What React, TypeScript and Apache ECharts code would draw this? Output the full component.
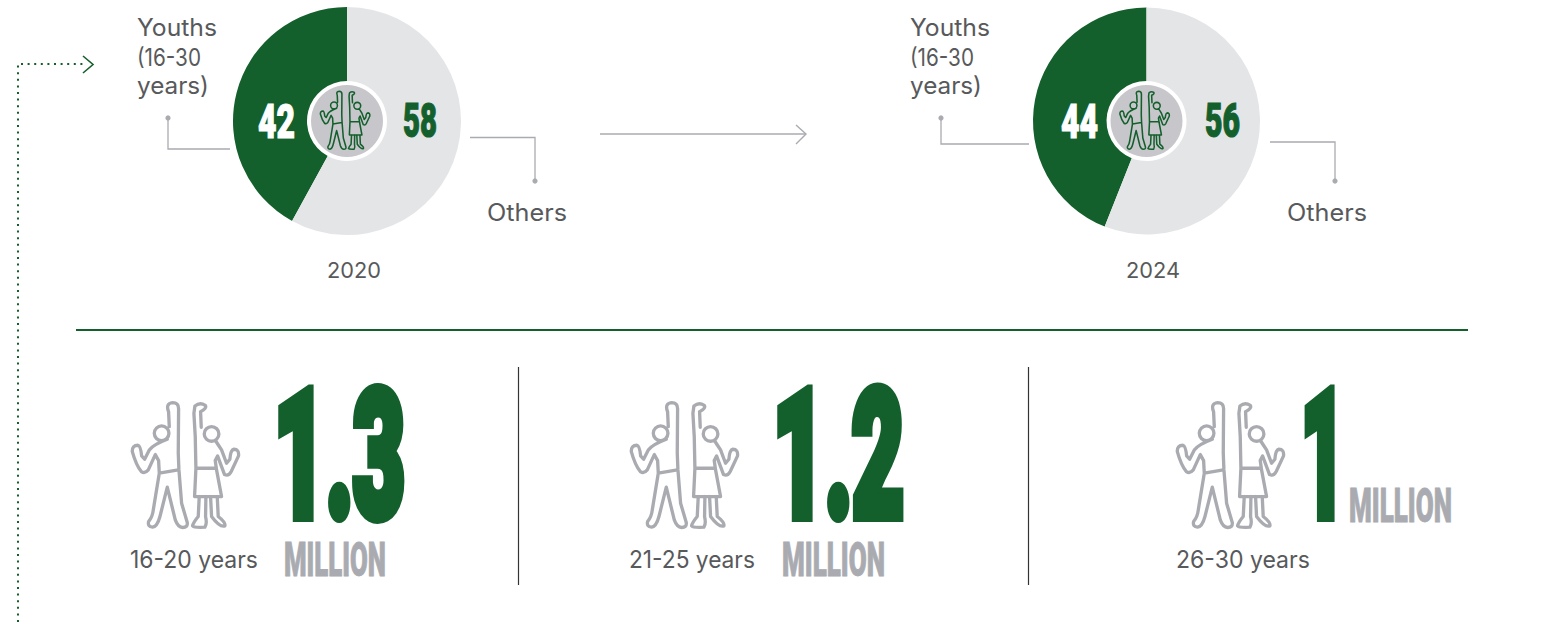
import React, { useEffect, useRef } from "react";
import * as echarts from "echarts";

const pieYears = ["2020", "2024"];
const youthShares = [42, 44];
const otherShares = [58, 56];
const sliceNames = ["Youths (16-30 years)", "Others"];
const youthLabelLines = ["Youths", "(16-30", "years)"];
const ageGroups = ["16-20 years", "21-25 years", "26-30 years"];
const populationMillions = ["1.3", "1.2", "1"];
const unitLabel = "MILLION";

const GREEN = "#14602d";
const LIGHT = "#e4e5e7";
const GREY = "#a9abb1";
const TEXT = "#58595b";
const BODY_FONT = "Inter";
const HEAVY_FONT = "Roboto";

const figuresPath = [
  // man
  "M176 126 Q166 100 188 98 Q206 98 206 116 L205 250 L207 300 L215 400 L232 458 Q234 473 218 473 Q204 472 196 450 L172 352 L150 440 Q142 470 128 472 Q112 470 116 455 Q128 440 130 420 L148 310 L146 272 L136 254 L115 300 Q105 312 94 305 Q78 285 67 245 Q66 226 84 226 Q92 228 95 258 L104 268 L118 240 Q130 224 172 208",
  "M176 126 L178 170",
  "M133 190 A22 22 0 1 0 177 190 A22 22 0 1 0 133 190 Z",
  "M148 310 L205 300",
  // woman
  "M272 125 Q292 115 286 106 Q270 96 255 108 L252 130 L256 200 L258 295 L254 380 L335 380 L320 300 L316 272 L323 258 L344 314 Q356 320 364 305 L386 258 Q388 238 372 238 Q362 240 360 268 L350 280 L335 240 Q325 225 318 214",
  "M283 192 A22 22 0 1 0 327 192 A22 22 0 1 0 283 192 Z",
  "M272 125 L274 172",
  "M258 295 L318 295",
  "M268 380 L265 440 Q250 458 248 468 Q252 474 285 472 Q292 462 287 440 L288 380",
  "M302 380 L305 440 Q330 474 345 468 Q348 458 325 440 L322 380",
].join(" ");

echarts.graphic.registerShape("figures", echarts.graphic.extendPath(figuresPath, {}));

const measureCtx = document.createElement("canvas").getContext("2d")!;

// Condensed display type: a black face squeezed horizontally to the wanted width,
// with a mitred outline that restores the stem weight lost in the squeeze.
function heavyText(text: string, left: number, right: number, top: number, bottom: number, fill: string, strokeWidth: number) {
  const capHeight = bottom - top - strokeWidth;
  const fontSize = Math.round(capHeight / 0.711);
  const font = `900 ${fontSize}px "${HEAVY_FONT}"`;
  measureCtx.font = font;
  const width = measureCtx.measureText(text).width;
  return {
    type: "text",
    x: left,
    y: (top + bottom) / 2 + fontSize * 0.012,
    scaleX: (right - left) / width,
    z: 13,
    style: {
      text,
      font,
      fill,
      stroke: fill,
      lineWidth: strokeWidth,
      lineJoin: "miter",
      textAlign: "left",
      textVerticalAlign: "middle",
    },
  };
}

// Body copy fitted to a given run width.
function bodyText(text: string, x: number, y: number, size: number, runWidth: number, align = "left") {
  const font = `400 ${size}px "${BODY_FONT}"`;
  measureCtx.font = font;
  return {
    type: "text",
    x,
    y,
    scaleX: runWidth / measureCtx.measureText(text).width,
    z: 10,
    style: {
      text,
      font,
      fill: TEXT,
      textAlign: align,
      textVerticalAlign: "middle",
    },
  };
}

const seg = (pts: number[][], stroke = GREY, lineWidth = 1.3, dash?: number[]) => ({
  type: "polyline",
  z: 5,
  shape: { points: pts },
  style: { fill: "none", stroke, lineWidth, lineDash: dash },
});
const dot = (cx: number, cy: number) => ({
  type: "circle",
  z: 5,
  shape: { cx, cy, r: 2.6 },
  style: { fill: GREY },
});
const figures = (x: number, y: number, scale: number, stroke: string, lineWidth: number) => ({
  type: "figures",
  x,
  y,
  scaleX: scale,
  scaleY: scale,
  z: 12,
  style: { fill: "none", stroke, lineWidth, lineJoin: "round", lineCap: "round" },
});

const pieCentres = [347, 1146.5];
const pieRadii = [114, 113.5];
const PIE_Y = 121;

function buildOption() {
  const series = pieYears.map((year, i) => ({
    type: "pie",
    name: year,
    center: [pieCentres[i], PIE_Y],
    radius: [40, pieRadii[i]],
    startAngle: 90,
    clockwise: false,
    silent: true,
    label: { show: false },
    labelLine: { show: false },
    data: [
      { name: sliceNames[0], value: youthShares[i], itemStyle: { color: GREEN } },
      { name: sliceNames[1], value: otherShares[i], itemStyle: { color: LIGHT } },
    ],
  }));

  const graphics: any[] = [
    // dotted connector and its arrow head
    seg([[18, 622], [18, 64], [86, 64]], GREEN, 2, [2, 4.6]),
    seg([[83, 56], [93, 64.5], [83, 73]], GREEN, 1.6),
    // arrow between the two years
    seg([[600, 134], [805, 134]], GREY, 1.4),
    seg([[796, 125], [806, 134], [796, 144]], GREY, 1.4),
    // section rule and column dividers
    seg([[76, 330], [1468, 330]], GREEN, 2),
    seg([[518.5, 367], [518.5, 585]], "#333333", 1.2),
    seg([[1028.5, 367], [1028.5, 585]], "#333333", 1.2),
    // leader lines
    seg([[168, 118], [168, 149], [230, 149]]),
    dot(168, 118),
    seg([[470, 137.5], [535, 137.5], [535, 181]]),
    dot(535, 181),
    seg([[941, 118], [941, 144], [1029, 144]]),
    dot(941, 118),
    seg([[1270, 142], [1335, 142], [1335, 181]]),
    dot(1335, 181),
  ];

  const youthTextX = [137, 910];
  const youthLineY = [27, 57, 86];
  const youthLineWidth = [80, 64, 72];
  const othersX = [487, 1287];
  const yearX = [354, 1153];
  const valueBoxes = [
    [[258, 295], [403, 437]],
    [[1061, 1098], [1205, 1240]],
  ];
  pieYears.forEach((year, i) => {
    const c = pieCentres[i];
    graphics.push(
      { type: "circle", z: 11, shape: { cx: c, cy: PIE_Y, r: 36 }, style: { fill: "#c7c6ca" } },
      figures(c - 37, 76, 0.155, GREEN, 10),
      heavyText(String(youthShares[i]), valueBoxes[i][0][0], valueBoxes[i][0][1], 103, 138, "#ffffff", 1.2),
      heavyText(String(otherShares[i]), valueBoxes[i][1][0], valueBoxes[i][1][1], 103, 138, GREEN, 1.2),
      bodyText(sliceNames[1], othersX[i], 212, 24, 80),
      bodyText(year, yearX[i], 270, 22, 54, "center"),
    );
    youthLabelLines.forEach((line, k) => {
      graphics.push(bodyText(line, youthTextX[i], youthLineY[k], 24, youthLineWidth[k]));
    });
  });

  const iconX = [110, 609, 1155];
  const labelX = [130, 629, 1176];
  const labelWidth = [128, 126, 134];
  const numberBox = [[274, 405], [773, 904], [1301, 1345]];
  const unitBox = [
    [284, 386, 541, 577],
    [782, 885, 541, 577],
    [1349, 1452, 487, 523],
  ];
  ageGroups.forEach((group, i) => {
    const u = unitBox[i];
    graphics.push(
      figures(iconX[i], 370, 1 / 3, GREY, 10),
      bodyText(group, labelX[i], 559, 24, labelWidth[i]),
      heavyText(populationMillions[i], numberBox[i][0], numberBox[i][1], 384, 522, GREEN, 12),
      heavyText(unitLabel, u[0], u[1], u[2], u[3], GREY, 1),
    );
  });

  return { animation: false, backgroundColor: "#ffffff", series, graphic: { elements: graphics } };
}

export default function App() {
  const ref = useRef<HTMLDivElement>(null);
  useEffect(() => {
    const chart = echarts.init(ref.current!, undefined, { renderer: "svg" });
    chart.setOption(buildOption() as any);
    return () => chart.dispose();
  }, []);
  return <div ref={ref} style={{ position: "fixed", left: 0, top: 0, width: 1556, height: 623 }} />;
}
